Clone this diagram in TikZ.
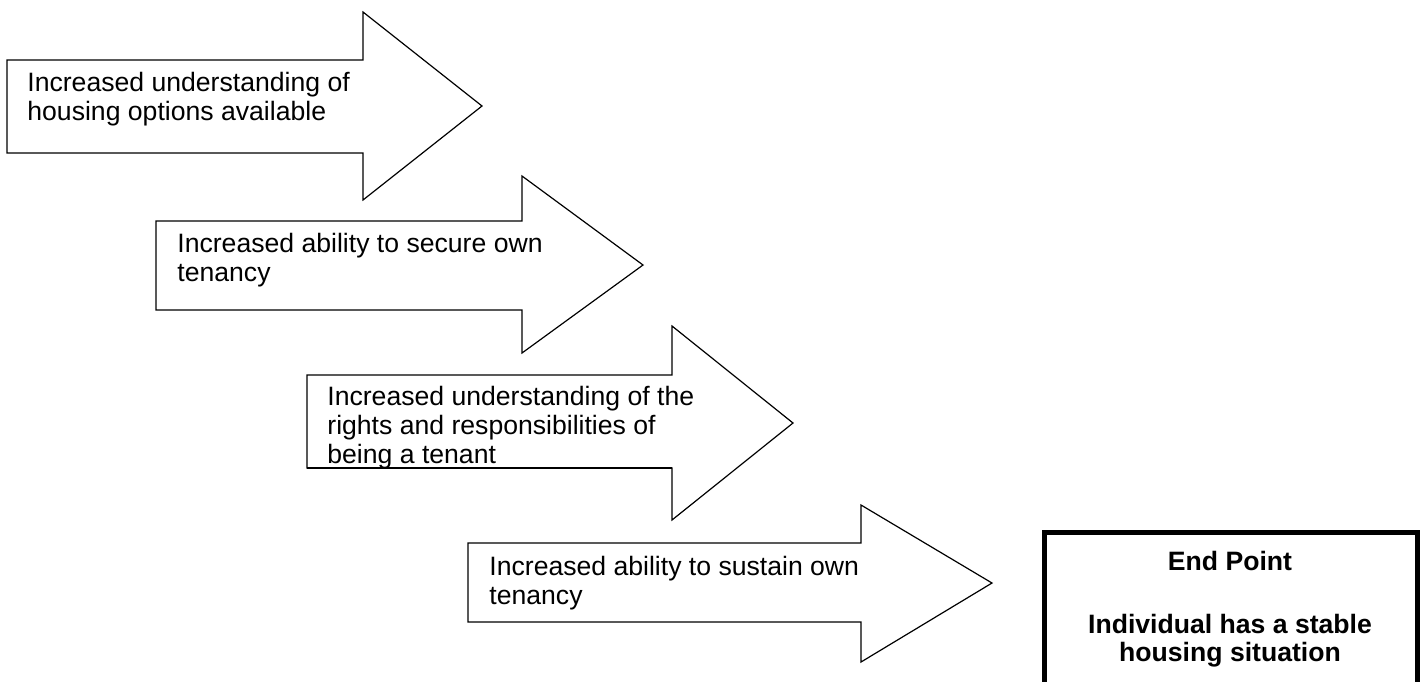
\documentclass[tikz,border=0pt]{standalone}
\usepackage{fontspec}
\setmainfont{Liberation Sans}
\begin{document}
\begin{tikzpicture}[x=0.5pt,y=-0.5pt,
  arrowshape/.style={draw=black,fill=white,line width=0.6pt,line join=miter},
  steptext/.style={anchor=base west,inner sep=0pt,font=\fontsize{13.3}{14.5}\selectfont},
  endbox/.style={draw=black,line width=2.5pt},
  endtext/.style={anchor=base,inner sep=0pt,font=\fontsize{13.3}{14}\selectfont\bfseries}]
\useasboundingbox (0,0) rectangle (1427,681);
\clip (0,0) rectangle (1427,681);
% arrow 1
\draw[arrowshape] (7,60) -- (363,60) -- (363,12) -- (482,106) -- (363,200) -- (363,153) -- (7,153) -- cycle;
\node[steptext] (t1) at (27,91) {\begin{tabular}[t]{@{}l@{}}Increased understanding of\\housing options available\end{tabular}};
% arrow 2
\draw[arrowshape] (156,221) -- (522,221) -- (522,176) -- (643,265) -- (522,353) -- (522,310) -- (156,310) -- cycle;
\node[steptext] (t2) at (177,252) {\begin{tabular}[t]{@{}l@{}}Increased ability to secure own\\tenancy\end{tabular}};
% arrow 3
\draw[arrowshape] (307,375) -- (672,375) -- (672,326) -- (793,423) -- (672,520) -- (672,468) -- (307,468) -- cycle;
\begin{scope}
\clip (300,370) rectangle (700,467);
\node[steptext] (t3) at (327,405) {\begin{tabular}[t]{@{}l@{}}Increased understanding of the\\rights and responsibilities of\\being a tenant\end{tabular}};
\end{scope}
\draw[line width=0.6pt] (307,468) -- (672,468);
% arrow 4
\draw[arrowshape] (468,543) -- (861,543) -- (861,505) -- (992,583) -- (861,662) -- (861,622) -- (468,622) -- cycle;
\node[steptext] (t4) at (489,575) {\begin{tabular}[t]{@{}l@{}}Increased ability to sustain own\\tenancy\end{tabular}};
% end box
\draw[endbox] (1044,532) rectangle (1417,720);
\node[endtext] (e1) at (1230,570) {End Point};
\node[endtext] (e2) at (1230,633) {Individual has a stable};
\node[endtext] (e3) at (1230,661) {housing situation};
\end{tikzpicture}
\end{document}
